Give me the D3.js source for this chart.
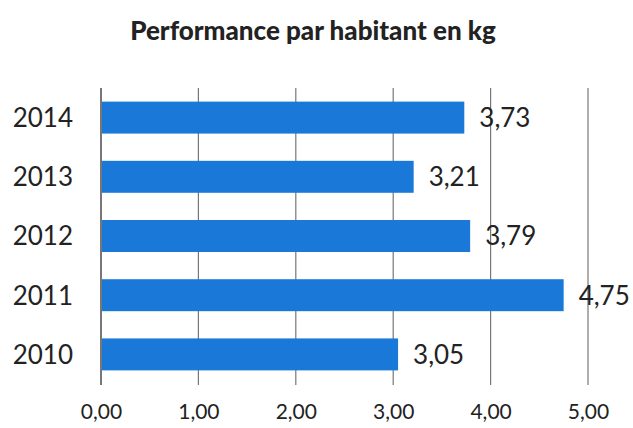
<!DOCTYPE html>
<html>
<head>
<meta charset="utf-8">
<script src="https://cdn.jsdelivr.net/npm/d3@7"></script>
<style>
  body { margin: 0; background: #fff; }
  text { font-family: Lato, "Open Sans", sans-serif; fill: #222; }
</style>
</head>
<body>
<div id="chart"></div>
<script>
// Data
var years = ["2014", "2013", "2012", "2011", "2010"];
var values = [3.73, 3.21, 3.79, 4.75, 3.05];
var tickValues = [0, 1, 2, 3, 4, 5];

// Chart setup
var svgWidth = 633;
var svgHeight = 428;

var margin = { top: 88, right: 45, bottom: 44, left: 101 };
var width = svgWidth - margin.left - margin.right;
var height = svgHeight - margin.top - margin.bottom;

var svg = d3.select("#chart")
  .append("svg")
  .attr("width", svgWidth)
  .attr("height", svgHeight);

var chartGroup = svg.append("g")
  .attr("transform", `translate(${margin.left}, ${margin.top})`);

var fmt = d => d.toFixed(2).replace(".", ",");

var xScale = d3.scaleLinear().domain([0, 5]).range([0, 487]);
var yScale = d3.scaleBand().domain(years).range([0, height]).paddingInner(0.46).paddingOuter(0.23);

// gridlines
chartGroup.selectAll(".grid")
  .data(tickValues)
  .enter()
  .append("line")
  .attr("x1", d => xScale(d))
  .attr("x2", d => xScale(d))
  .attr("y1", 0)
  .attr("y2", height + 1)
  .attr("stroke", d => d === 0 ? "#555" : "#777")
  .attr("stroke-width", d => d === 0 ? 1.6 : 1.2);

// bars
chartGroup.selectAll("rect")
  .data(values)
  .enter()
  .append("rect")
  .attr("x", 1)
  .attr("y", (d, i) => yScale(years[i]))
  .attr("width", d => xScale(d) - 1)
  .attr("height", yScale.bandwidth())
  .attr("fill", "#1a78d8");

// value labels
chartGroup.selectAll(".val")
  .data(values)
  .enter()
  .append("text")
  .attr("x", d => xScale(d) + 15)
  .attr("y", (d, i) => yScale(years[i]) + yScale.bandwidth() / 2)
  .attr("dy", "0.36em")
  .style("font-size", "26px")
  .text(d => fmt(d));

// y axis labels
var leftAxis = d3.axisLeft(yScale).tickSize(0).tickPadding(28);
var yAxis = chartGroup.append("g").call(leftAxis);
yAxis.select(".domain").remove();
yAxis.selectAll("text")
  .style("font-size", "26px")
  .attr("fill", "#222")
  .attr("dy", "0.36em");

// x axis labels
var bottomAxis = d3.axisBottom(xScale).tickValues(tickValues).tickSize(0).tickPadding(20).tickFormat(fmt);
var xAxis = chartGroup.append("g")
  .attr("transform", `translate(0, ${height})`)
  .call(bottomAxis);
xAxis.select(".domain").remove();
xAxis.selectAll("text")
  .style("font-size", "21px")
  .attr("fill", "#222");

// title
svg.append("text")
  .attr("x", 313)
  .attr("y", 40)
  .attr("text-anchor", "middle")
  .style("font-size", "26px")
  .style("font-weight", "900")
  .text("Performance par habitant en kg");
</script>
</body>
</html>
